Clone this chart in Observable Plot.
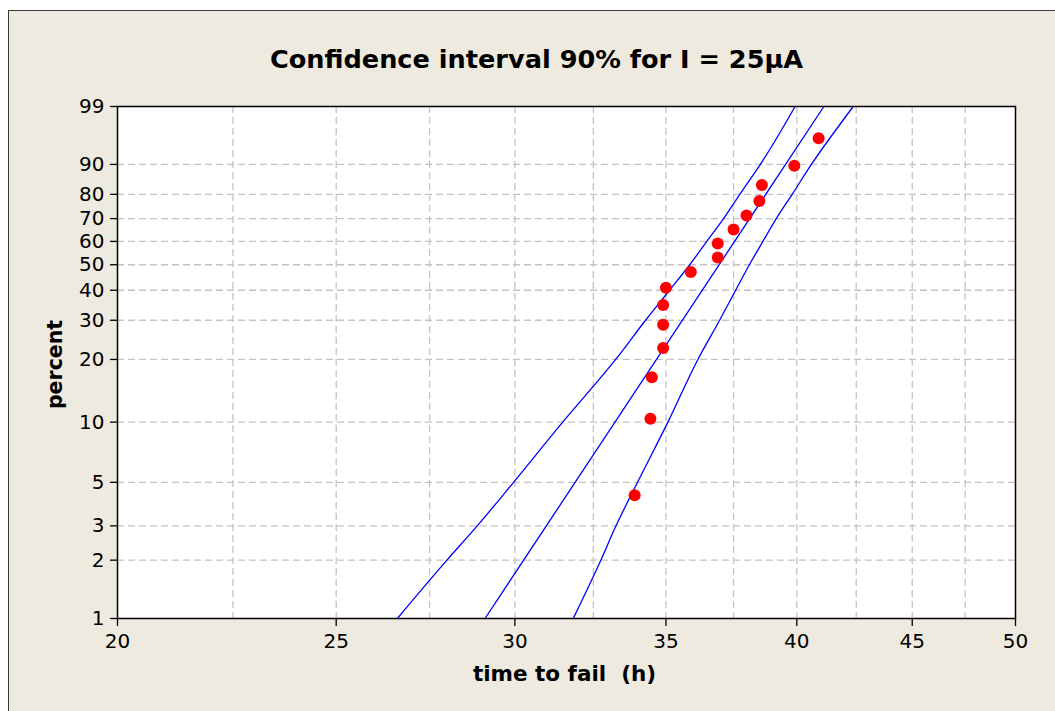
<!DOCTYPE html>
<html>
<head>
<meta charset="utf-8">
<script src="https://cdn.jsdelivr.net/npm/d3@7"></script>
<script src="https://cdn.jsdelivr.net/npm/@observablehq/plot@0.6"></script>
<style>
  html, body { margin: 0; padding: 0; background: #ffffff; overflow: hidden; }
  #panel { position: absolute; left: 8px; top: 10px; width: 1200px; height: 900px;
           background: #eeeae0; border: 1px solid #3a3a3a; }
  #chart { position: absolute; left: 0; top: 0; }
  #chart g[aria-label="x-axis tick label"], #chart g[aria-label="y-axis tick label"] { font-size: 20px !important; }
</style>
</head>
<body>
<div id="panel"></div>
<div id="chart"></div>
<script>
// ---- data ----
const titleText = "Confidence interval 90% for I = 25µA";
const xLabel = "time to fail \u00a0(h)";
const yLabel = "percent";

const pctTicks = [1, 2, 3, 5, 10, 20, 30, 40, 50, 60, 70, 80, 90, 99];
const xTicks = [20, 25, 30, 35, 40, 45, 50];
const xGrid = [22.5, 25, 27.5, 30, 32.5, 35, 37.5, 40, 42.5, 45, 47.5];

// failure data (hours) and plotted percent
const failTimes = [33.9, 34.45, 34.5, 34.9, 34.9, 34.9, 35.0, 35.9, 36.9, 36.9, 37.5, 38.0, 38.5, 38.6, 39.9, 40.9];
const failPct   = [4.3, 10.4, 16.5, 22.6, 28.7, 34.8, 40.9, 47.0, 53.0, 59.1, 65.2, 71.3, 77.4, 83.5, 89.6, 95.7];

// fitted line and 90% confidence bounds (time at each percent)
const fitPct  = [1, 99];
const fitTime = [29.1, 41.12];
const boundPct   = [1, 2, 3, 5, 10, 20, 30, 40, 50, 60, 70, 80, 90, 99];
const lowerTime  = [26.61, 27.99, 28.87, 29.96, 31.50, 33.25, 34.28, 35.13, 35.86, 36.49, 37.12, 37.74, 38.54, 39.93];
const upperTime  = [31.84, 32.75, 33.26, 34.00, 35.07, 36.16, 36.97, 37.58, 38.11, 38.64, 39.17, 39.81, 40.60, 42.37];

// ---- Weibull probability transform ----
const W = p => Math.log(-Math.log(1 - p / 100));
const yTickVals = pctTicks.map(W);
const yLabelMap = new Map(pctTicks.map(p => [W(p), String(p)]));

const points = failTimes.map((t, i) => ({t, p: failPct[i]}));
const lineRows = [
  ...fitTime.map((t, i) => ({series: "fit", t, p: fitPct[i]})),
  ...lowerTime.map((t, i) => ({series: "lower", t, p: boundPct[i]})),
  ...upperTime.map((t, i) => ({series: "upper", t, p: boundPct[i]}))
];

const gridStyle = {stroke: "#c4c4c4", strokeWidth: 1.3, strokeDasharray: "7,4"};

const chart = Plot.plot({
  width: 1055,
  height: 711,
  marginLeft: 117,
  marginRight: 40,
  marginTop: 106,
  marginBottom: 93,
  style: {background: "transparent", fontFamily: "DejaVu Sans", fontSize: "20px", color: "black"},
  x: {type: "log", domain: [20, 50]},
  y: {type: "linear", domain: [W(1), W(99)]},
  marks: [
    Plot.frame({fill: "white", stroke: "none"}),
    Plot.ruleX(xGrid, gridStyle),
    Plot.ruleY(yTickVals.slice(1, -1), gridStyle),
    Plot.line(lineRows, {x: "t", y: d => W(d.p), z: "series", stroke: "#0000ff", strokeWidth: 1.3, curve: "monotone-y"}),
    Plot.dot(points, {x: "t", y: d => W(d.p), r: 6, fill: "#ff0000", stroke: "none"}),
    Plot.frame({stroke: "black", strokeWidth: 1.5}),
    Plot.axisX({ticks: xTicks, tickFormat: d => String(d), tickSize: 8, tickPadding: 7, label: null, fontSize: 20, stroke: "black", strokeWidth: 1.3}),
    Plot.axisY({ticks: yTickVals, tickFormat: w => yLabelMap.get(w), tickSize: 7, tickPadding: 6, label: null, fontSize: 20, stroke: "black", strokeWidth: 1.3}),
    Plot.text([titleText], {frameAnchor: "top", dx: -30, dy: -57, lineAnchor: "top", textAnchor: "middle", fontSize: 25.6, fontWeight: "bold", fill: "black"}),
    Plot.text([xLabel], {frameAnchor: "bottom", dx: -2, dy: 47, lineAnchor: "top", textAnchor: "middle", fontSize: 21.5, fontWeight: "bold", fill: "black"}),
    Plot.text([yLabel], {frameAnchor: "left", dx: -62, dy: 2, rotate: -90, lineAnchor: "middle", textAnchor: "middle", fontSize: 20.5, fontWeight: "bold", fill: "black"})
  ]
});
document.getElementById("chart").appendChild(chart);
</script>
</body>
</html>
